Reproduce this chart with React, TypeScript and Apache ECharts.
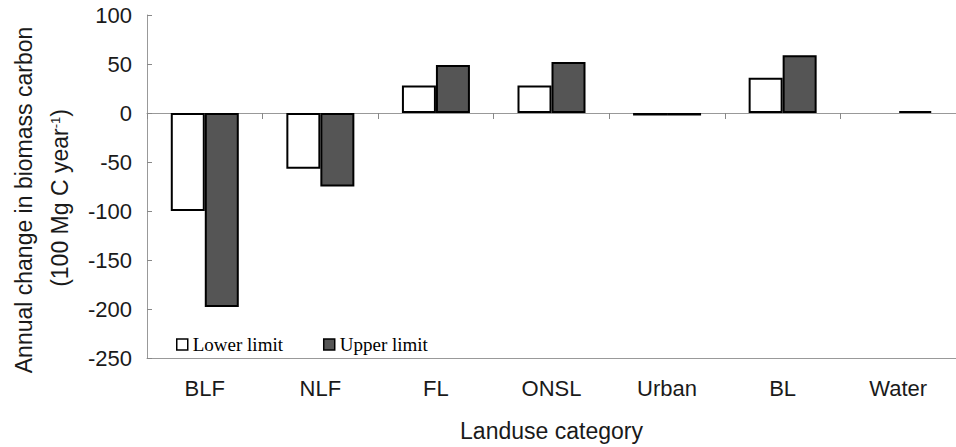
import React, { useEffect, useRef } from "react";
import * as echarts from "echarts";

const categories = ["BLF", "NLF", "FL", "ONSL", "Urban", "BL", "Water"];
const lowerLimit: (number | null)[] = [-100, -57, 28, 28, -2.5, 36, null];
const upperLimit: (number | null)[] = [-198, -75, 49, 52, -2.5, 59, 2];
const yTicks = { min: -250, max: 100, interval: 50 };

const SANS = "'Liberation Sans', Arial, sans-serif";
const SERIF = "'Liberation Serif', 'Times New Roman', serif";

export default function App() {
  const ref = useRef<HTMLDivElement>(null);
  useEffect(() => {
    if (!ref.current) return;
    const chart = echarts.init(ref.current, undefined, { renderer: "svg" });
    chart.setOption({
      animation: false,
      backgroundColor: "#ffffff",
      grid: { left: 147, right: -10, top: 15, bottom: 84, containLabel: false },
      legend: {
        left: 171,
        top: 330,
        itemWidth: 11,
        itemHeight: 11,
        itemGap: 40,
        icon: "rect",
        textStyle: { fontFamily: SERIF, fontSize: 19, color: "#000" },
        data: [
          { name: "Lower limit", itemStyle: { color: "#fff", borderColor: "#000", borderWidth: 1.5 } },
          { name: "Upper limit", itemStyle: { color: "#555", borderColor: "#000", borderWidth: 1.5 } },
        ],
      },
      xAxis: [
        {
          type: "category",
          data: categories,
          position: "bottom",
          axisLine: { onZero: false, lineStyle: { color: "#999", width: 1 } },
          axisTick: { show: false },
          axisLabel: { margin: 19, fontFamily: SANS, fontSize: 22, color: "#1a1a1a" },
          name: "Landuse category",
          nameLocation: "middle",
          nameGap: 61,
          nameTextStyle: { fontFamily: SANS, fontSize: 23, color: "#1a1a1a" },
        },
        {
          type: "category",
          data: categories,
          position: "top",
          axisLine: { onZero: true, lineStyle: { color: "#999", width: 1 } },
          axisTick: { show: true, inside: true, length: 6, lineStyle: { color: "#888" } },
          axisLabel: { show: false },
        },
      ],
      yAxis: {
        type: "value",
        min: yTicks.min,
        max: yTicks.max,
        interval: yTicks.interval,
        axisLine: { show: true, lineStyle: { color: "#999", width: 1 } },
        axisTick: { show: true, inside: true, length: 5, lineStyle: { color: "#888" } },
        axisLabel: { margin: 15, fontFamily: SANS, fontSize: 22, color: "#1a1a1a" },
        splitLine: { show: false },
      },
      graphic: [
        {
          type: "text",
          x: 24,
          y: 200,
          rotation: Math.PI / 2,
          style: {
            text: "Annual change in biomass carbon",
            font: `23px ${SANS}`,
            fill: "#1a1a1a",
            textAlign: "center",
            textVerticalAlign: "middle",
          },
        },
        {
          type: "text",
          x: 60,
          y: 198,
          rotation: Math.PI / 2,
          style: {
            text: "(100 Mg C year{sup|-1})",
            font: `23px ${SANS}`,
            fill: "#1a1a1a",
            textAlign: "center",
            textVerticalAlign: "middle",
            rich: {
              sup: { fontFamily: SANS, fontSize: 13, fill: "#1a1a1a", verticalAlign: "top", padding: [0, 0, 10, 0] },
            },
          },
        },
      ],
      series: [
        {
          name: "Lower limit",
          type: "bar",
          xAxisIndex: 0,
          data: lowerLimit,
          barWidth: 34,
          barGap: "0%",
          itemStyle: { color: "#ffffff", borderColor: "#000", borderWidth: 2 },
        },
        {
          name: "Upper limit",
          type: "bar",
          xAxisIndex: 0,
          data: upperLimit,
          barWidth: 34,
          barGap: "0%",
          itemStyle: { color: "#555555", borderColor: "#000", borderWidth: 2 },
        },
      ],
    });
    return () => chart.dispose();
  }, []);
  return <div ref={ref} style={{ position: "absolute", left: 0, top: 0, width: 956, height: 447 }} />;
}
